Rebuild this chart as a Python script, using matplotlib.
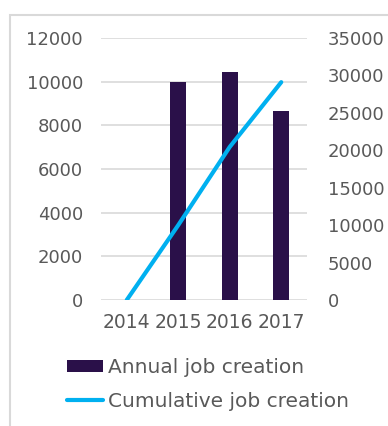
import numpy as np
import matplotlib
matplotlib.use("Agg")
import matplotlib.pyplot as plt
from matplotlib.patches import Rectangle

years = ["2014", "2015", "2016", "2017"]
annual = [0, 10000, 10450, 8650]
cumulative = [0, 10000, 20450, 29100]

grey = "#595959"
fig = plt.figure(figsize=(3.88, 4.26), dpi=100)
fig.patches.append(Rectangle((10 / 388, -0.2), 1.2, 1.2 - 15 / 426, transform=fig.transFigure,
                             fill=False, ec="#d9d9d9", lw=1.5))

ax = fig.add_axes([101 / 388, 1 - 300 / 426, 206 / 388, 262 / 426])
x = np.arange(len(years))
bars = ax.bar(x, annual, width=0.31, color="#2a1049", label="Annual job creation", zorder=2)
ax.set_ylim(0, 12000)
ax.set_yticks(range(0, 12001, 2000))
ax.set_xlim(-0.5, 3.5)
ax.set_xticks(x, years)
ax.grid(axis="y", color="#d9d9d9", lw=1.2, zorder=0)
for s in ax.spines.values():
    s.set_visible(False)
ax.tick_params(length=0, labelsize=13, labelcolor=grey, pad=10)
ax.tick_params(axis="x", labelsize=13.5, pad=9)
ax.tick_params(axis="y", pad=13)

ax2 = ax.twinx()
ln, = ax2.plot(x, cumulative, color="#00b0f0", lw=3, label="Cumulative job creation",
               solid_capstyle="round")
ax2.set_ylim(0, 35000)
ax2.set_yticks(range(0, 35001, 5000))
for s in ax2.spines.values():
    s.set_visible(False)
ax2.tick_params(length=0, labelsize=13, labelcolor=grey, pad=15)

leg = fig.legend([bars, ln], ["Annual job creation", "Cumulative job creation"],
                 loc="upper left", bbox_to_anchor=(67 / 388, 1 - 358 / 426),
                 frameon=False, fontsize=14.5, labelcolor=grey, handlelength=1.8,
                 handleheight=0.6, handletextpad=0.25, labelspacing=0.75,
                 borderpad=0, borderaxespad=0)
fig.savefig("out.png", dpi=100)
